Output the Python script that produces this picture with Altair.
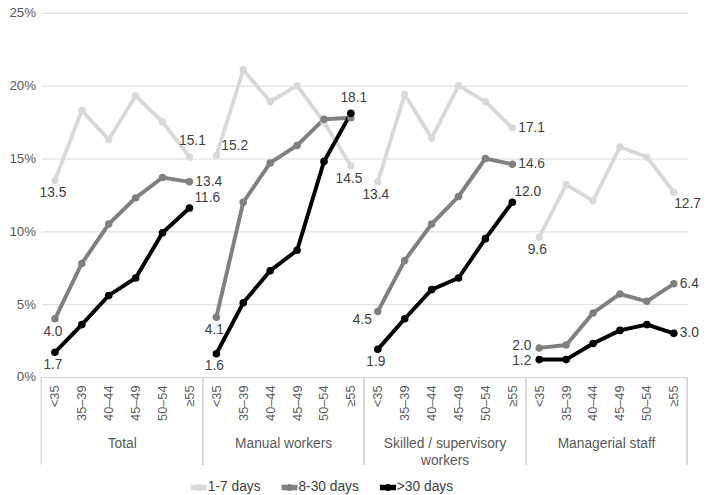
import altair as alt
import pandas as pd

groups = ["Total", "Manual workers", "Skilled / supervisory workers", "Managerial staff"]
ages = ["<35", "35–39", "40–44", "45–49", "50–54", "≥55"]
series = ["1-7 days", "8-30 days", ">30 days"]

short_total = [13.5, 18.3, 16.3, 19.3, 17.5, 15.1]
mid_total = [4.0, 7.8, 10.5, 12.3, 13.7, 13.4]
long_total = [1.7, 3.6, 5.6, 6.8, 9.9, 11.6]

short_manual = [15.2, 21.1, 18.9, 20.0, 17.5, 14.5]
mid_manual = [4.1, 12.0, 14.7, 15.9, 17.7, 17.8]
long_manual = [1.6, 5.1, 7.3, 8.7, 14.8, 18.1]

short_skilled = [13.4, 19.4, 16.4, 20.0, 18.9, 17.1]
mid_skilled = [4.5, 8.0, 10.5, 12.4, 15.0, 14.6]
long_skilled = [1.9, 4.0, 6.0, 6.8, 9.5, 12.0]

short_manag = [9.6, 13.2, 12.1, 15.8, 15.1, 12.7]
mid_manag = [2.0, 2.2, 4.4, 5.7, 5.2, 6.4]
long_manag = [1.2, 1.2, 2.3, 3.2, 3.6, 3.0]

table = {
    "Total": [short_total, mid_total, long_total],
    "Manual workers": [short_manual, mid_manual, long_manual],
    "Skilled / supervisory workers": [short_skilled, mid_skilled, long_skilled],
    "Managerial staff": [short_manag, mid_manag, long_manag],
}

# label placement style (first / last point of each line)
placement = {
    ("Total", "1-7 days"): ("below", "above"),
    ("Total", "8-30 days"): ("below", "right"),
    ("Total", ">30 days"): ("below", "rightup"),
    ("Manual workers", "1-7 days"): ("rightup", "below"),
    ("Manual workers", "8-30 days"): ("below", ""),
    ("Manual workers", ">30 days"): ("below", "above"),
    ("Skilled / supervisory workers", "1-7 days"): ("below", "right"),
    ("Skilled / supervisory workers", "8-30 days"): ("belowleft", "right"),
    ("Skilled / supervisory workers", ">30 days"): ("below", "aboveright"),
    ("Managerial staff", "1-7 days"): ("below", "belowright"),
    ("Managerial staff", "8-30 days"): ("leftup", "right"),
    ("Managerial staff", ">30 days"): ("leftdown", "right"),
}

rows = []
for g in groups:
    for si, s in enumerate(series):
        vals = table[g][si]
        first, last = placement[(g, s)]
        for ai, a in enumerate(ages):
            pos = first if ai == 0 else (last if ai == len(ages) - 1 else "")
            rows.append({"group": g, "age": a, "series": s, "value": vals[ai], "pos": pos})
df = pd.DataFrame(rows)

H = 370
W = 164
FONT = "Liberation Sans"

color = alt.Color(
    "series:N",
    sort=series,
    scale=alt.Scale(domain=series, range=["#d9d9d9", "#808080", "#000000"]),
    legend=alt.Legend(
        title=None,
        orient="none",
        legendX=153,
        legendY=475,
        direction="horizontal",
        symbolType="M-1.6,-0.19H1.6V0.19H-1.6Z M0.42,0A0.42,0.42 0 1,1 -0.42,0A0.42,0.42 0 1,1 0.42,0Z",
        symbolSize=451,
        symbolStrokeWidth=0,
        labelFontSize=14,
        labelColor="#404040",
        labelFont=FONT,
        labelOffset=2,
        columnPadding=14,
    ),
)

x = alt.X(
    "age:N",
    sort=ages,
    title=None,
    axis=alt.Axis(
        labelAngle=270,
        ticks=False,
        domainColor="#d9d9d9",
        labelPadding=8,
        labelFontSize=13,
        labelColor="#595959",
        labelFont=FONT,
    ),
)
y = alt.Y(
    "value:Q",
    scale=alt.Scale(domain=[0, 25]),
    title=None,
    axis=alt.Axis(
        values=[0, 5, 10, 15, 20, 25],
        labelExpr="datum.value + '%'",
        grid=True,
        gridColor="#d9d9d9",
        domain=False,
        ticks=False,
        labelFontSize=13.5,
        labelColor="#595959",
        labelFont=FONT,
        labelPadding=6,
    ),
)

base = alt.Chart(df)

lines = base.mark_line().encode(
    x=x, y=y, color=color, detail="series:N",
    strokeWidth=alt.StrokeWidth("series:N", scale=alt.Scale(domain=series, range=[4, 4, 3]), legend=None),
)

points = base.mark_point(filled=True, opacity=1).encode(
    x=x, y=y, color=color,
    size=alt.Size("series:N", scale=alt.Scale(domain=series, range=[55, 60, 75]), legend=None),
)

def lab(name, dx, dy, align):
    return base.transform_filter(alt.datum.pos == name).mark_text(
        dx=dx, dy=dy, align=align, baseline="middle", fontSize=14, font=FONT, color="#404040"
    ).encode(x=x, y=y, text=alt.Text("value:Q", format=".1f"))

labels = [
    lab("below", -2, 13, "center"),
    lab("above", 3, -16, "center"),
    lab("right", 6, 0, "left"),
    lab("rightup", 5, -10, "left"),
    lab("leftup", -8, -2, "right"),
    lab("leftdown", -8, 2, "right"),
    lab("belowleft", -6, 9, "right"),
    lab("belowright", 14, 12, "center"),
    lab("aboveright", 2, -10, "left"),
]

sep_l = base.mark_rule(color="#d9d9d9", strokeWidth=1).encode(
    x=alt.value(0), y=alt.value(H), y2=alt.value(H + 89)
)
sep_r = base.mark_rule(color="#d9d9d9", strokeWidth=1).encode(
    x=alt.value(W), y=alt.value(H), y2=alt.value(H + 89)
)

layer = alt.layer(sep_l, sep_r, lines, points, *labels).properties(width=W, height=H)

chart = layer.facet(
    column=alt.Column(
        "group:N",
        sort=groups,
        title=None,
        header=alt.Header(
            labelOrient="bottom",
            labelFontSize=14,
            labelColor="#595959",
            labelFont=FONT,
            labelPadding=17,
            labelLineHeight=17,
            labelExpr="datum.value == 'Skilled / supervisory workers' ? ['Skilled / supervisory', 'workers'] : datum.value",
        ),
    ),
    spacing=0,
    bounds="flush",
).configure_view(stroke=None).properties(padding={"left": 0, "top": -6, "right": 0, "bottom": 0})

chart.save("out.html", embed_options={"renderer": "svg", "actions": False})
